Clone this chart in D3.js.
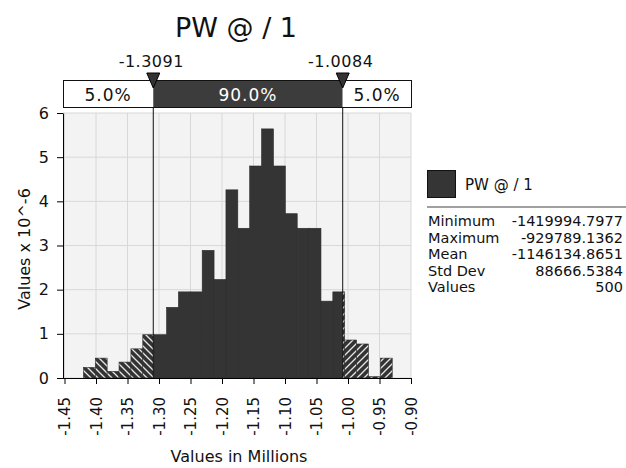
<!DOCTYPE html>
<html>
<head>
<meta charset="utf-8">
<script src="https://cdnjs.cloudflare.com/ajax/libs/d3/7.8.5/d3.min.js"></script>
<style>
body { margin: 0; background: #fff; }
text { font-family: "DejaVu Sans", sans-serif; fill: #111; }
</style>
</head>
<body>
<div id="viz"></div>
<script>
var title = 'PW @ / 1';
var xTicks = [-1.45, -1.40, -1.35, -1.30, -1.25, -1.20, -1.15, -1.10, -1.05, -1.00, -0.95, -0.90];
var xTickLabels = ['-1.45', '-1.40', '-1.35', '-1.30', '-1.25', '-1.20', '-1.15', '-1.10', '-1.05', '-1.00', '-0.95', '-0.90'];
var yTicks = [0, 1, 2, 3, 4, 5, 6];
var yTickLabels = ['0', '1', '2', '3', '4', '5', '6'];
// density per bin (x 10^-6), bins run from min to max
var density = [0.24, 0.45, 0.15, 0.36, 0.66, 0.98, 0.98, 1.6, 1.95, 1.95, 2.89, 2.23, 4.26,
               3.39, 4.8, 5.64, 4.8, 3.72, 3.39, 3.39, 1.74, 1.95, 0.86, 0.77, 0.03, 0.45];
var minValue = -1.4199947977, maxValue = -0.9297891362;   // in millions
var pLow = -1.3091, pHigh = -1.0084;
var bandLabels = ['5.0%', '90.0%', '5.0%'];
var statNames = ['Minimum', 'Maximum', 'Mean', 'Std Dev', 'Values'];
var statValues = ['-1419994.7977', '-929789.1362', '-1146134.8651', '88666.5384', '500'];

var width = 626, height = 468;
var plotLeft = 63, plotRight = 411, plotTop = 113, plotBottom = 378;

var x = d3.scaleLinear().domain([-1.45, -0.90]).range([64.5, 411]);
var y = d3.scaleLinear().domain([0, 6]).range([plotBottom, plotTop]);
var binWidth = (maxValue - minValue) / density.length;

var svg = d3.select('#viz').append('svg')
    .attr('width', width)
    .attr('height', height);

var defs = svg.append('defs');
function hatch(id, d) {
    var p = defs.append('pattern')
        .attr('id', id)
        .attr('patternUnits', 'userSpaceOnUse')
        .attr('width', 7).attr('height', 7);
    p.append('rect').attr('width', 7).attr('height', 7).attr('fill', '#333');
    p.append('path').attr('d', d)
        .attr('stroke', '#e6e6e6').attr('stroke-width', 1.3);
}
hatch('hatchLeft', 'M0,0L7,7M-1,6L1,8M6,-1L8,1');
hatch('hatchRight', 'M0,7L7,0M-1,1L1,-1M6,8L8,6');

function clip(id, x0, x1) {
    defs.append('clipPath').attr('id', id)
        .append('rect')
        .attr('x', x0).attr('y', plotTop)
        .attr('width', x1 - x0).attr('height', plotBottom - plotTop);
}
clip('clipLeft', plotLeft, x(pLow));
clip('clipMid', x(pLow), x(pHigh));
clip('clipRight', x(pHigh), plotRight);

// plot background and grid
svg.append('rect')
    .attr('x', plotLeft).attr('y', plotTop)
    .attr('width', plotRight - plotLeft).attr('height', plotBottom - plotTop)
    .attr('fill', '#f3f3f3');

svg.append('g').selectAll('line').data(xTicks)
    .enter().append('line')
    .attr('x1', function(d){ return x(d); })
    .attr('x2', function(d){ return x(d); })
    .attr('y1', plotTop).attr('y2', plotBottom)
    .attr('stroke', '#d8d8d8');

svg.append('g').selectAll('line').data(yTicks)
    .enter().append('line')
    .attr('x1', plotLeft).attr('x2', plotRight)
    .attr('y1', function(d){ return y(d); })
    .attr('y2', function(d){ return y(d); })
    .attr('stroke', '#d8d8d8');

// bars, drawn three times: hatched tails and solid middle
[['clipLeft', 'url(#hatchLeft)'], ['clipMid', '#343434'], ['clipRight', 'url(#hatchRight)']]
.forEach(function(part){
    svg.append('g')
        .attr('clip-path', 'url(#' + part[0] + ')')
        .selectAll('rect').data(density)
        .enter().append('rect')
        .attr('x', function(d, i){ return x(minValue + i * binWidth); })
        .attr('width', function(d, i){
            return x(minValue + (i + 1) * binWidth) - x(minValue + i * binWidth);
        })
        .attr('y', function(d){ return y(d); })
        .attr('height', function(d){ return plotBottom - y(d); })
        .attr('fill', part[1])
        .attr('stroke', '#2b2b2b')
        .attr('stroke-width', 0.6);
});

// axes
var yAxis = svg.append('g')
    .attr('transform', 'translate(' + plotLeft + ',0)')
    .call(d3.axisLeft(y).tickValues(yTicks).tickSize(6).tickSizeOuter(0).tickPadding(8)
        .tickFormat(function(d, i){ return yTickLabels[i]; }));
yAxis.selectAll('text').style('font-size', '16px').attr('fill', '#111');

var xAxis = svg.append('g')
    .attr('transform', 'translate(0,' + plotBottom + ')')
    .call(d3.axisBottom(x).tickValues(xTicks).tickSize(6).tickSizeOuter(0)
        .tickFormat(function(d, i){ return xTickLabels[i]; }));
xAxis.select('.domain').remove();
xAxis.selectAll('text')
    .style('font-size', '15px')
    .attr('fill', '#111')
    .attr('text-anchor', 'end')
    .attr('transform', 'rotate(-90)')
    .attr('x', -19).attr('y', 0).attr('dy', '0.36em');
svg.append('line')
    .attr('x1', plotLeft).attr('x2', plotRight + 0.5)
    .attr('y1', plotBottom + 0.5).attr('y2', plotBottom + 0.5)
    .attr('stroke', '#000');

// percentile lines
svg.append('g').selectAll('line').data([pLow, pHigh])
    .enter().append('line')
    .attr('x1', function(d){ return x(d); })
    .attr('x2', function(d){ return x(d); })
    .attr('y1', 108).attr('y2', plotBottom)
    .attr('stroke', '#111');

// band box on top
var bands = [[plotLeft, x(pLow), '#fff', '#111'], [x(pLow), x(pHigh), '#3c3c3c', '#fff'], [x(pHigh), plotRight + 0.5, '#fff', '#111']];
svg.append('g').selectAll('rect').data(bands)
    .enter().append('rect')
    .attr('x', function(d){ return d[0]; })
    .attr('y', 80)
    .attr('width', function(d){ return d[1] - d[0]; })
    .attr('height', 28)
    .attr('fill', function(d){ return d[2]; });
svg.append('rect')
    .attr('x', plotLeft + 0.5).attr('y', 80.5)
    .attr('width', plotRight - plotLeft).attr('height', 27)
    .attr('fill', 'none').attr('stroke', '#111');
svg.append('g').selectAll('text').data(bands)
    .enter().append('text')
    .attr('x', function(d){ return (d[0] + d[1]) / 2; })
    .attr('y', 101)
    .attr('text-anchor', 'middle')
    .style('font-size', '17px')
    .style('letter-spacing', '1px')
    .style('fill', function(d){ return d[3]; })
    .text(function(d, i){ return bandLabels[i]; });

// markers and their values
svg.append('g').selectAll('path').data([pLow, pHigh])
    .enter().append('path')
    .attr('d', function(d){
        var cx = x(d);
        return 'M' + (cx - 6.5) + ',73L' + (cx + 6.5) + ',73L' + cx + ',88Z';
    })
    .attr('fill', '#333').attr('stroke', '#000');
svg.append('g').selectAll('text').data([pLow, pHigh])
    .enter().append('text')
    .attr('x', function(d){ return x(d) - 2; })
    .attr('y', 67)
    .attr('text-anchor', 'middle')
    .style('font-size', '16px')
    .style('letter-spacing', '0.5px')
    .text(function(d){ return d.toFixed(4); });

// titles
svg.append('text')
    .attr('x', 236).attr('y', 37)
    .attr('text-anchor', 'middle')
    .style('font-size', '27px')
    .text(title);
svg.append('text')
    .attr('x', 239).attr('y', 462)
    .attr('text-anchor', 'middle')
    .style('font-size', '16px')
    .text('Values in Millions');
svg.append('text')
    .attr('transform', 'translate(30,249) rotate(-90)')
    .attr('text-anchor', 'middle')
    .style('font-size', '16px')
    .text('Values x 10^-6');

// legend and statistics
var legend = svg.append('g');
legend.append('rect')
    .attr('x', 427.5).attr('y', 170.5)
    .attr('width', 28).attr('height', 27)
    .attr('fill', '#353535').attr('stroke', '#111');
legend.append('text')
    .attr('x', 465).attr('y', 190)
    .style('font-size', '15px')
    .text(title);
legend.append('line')
    .attr('x1', 427).attr('x2', 626)
    .attr('y1', 207).attr('y2', 207)
    .attr('stroke', '#a0a0a0').attr('stroke-width', 2);
legend.selectAll('.name').data(statNames)
    .enter().append('text')
    .attr('class', 'name')
    .attr('x', 428)
    .attr('y', function(d, i){ return 226 + i * 16.6; })
    .style('font-size', '14.5px')
    .text(function(d){ return d; });
legend.selectAll('.val').data(statValues)
    .enter().append('text')
    .attr('class', 'val')
    .attr('x', 623)
    .attr('y', function(d, i){ return 226 + i * 16.6; })
    .attr('text-anchor', 'end')
    .style('font-size', '14.5px')
    .text(function(d){ return d; });
</script>
</body>
</html>
